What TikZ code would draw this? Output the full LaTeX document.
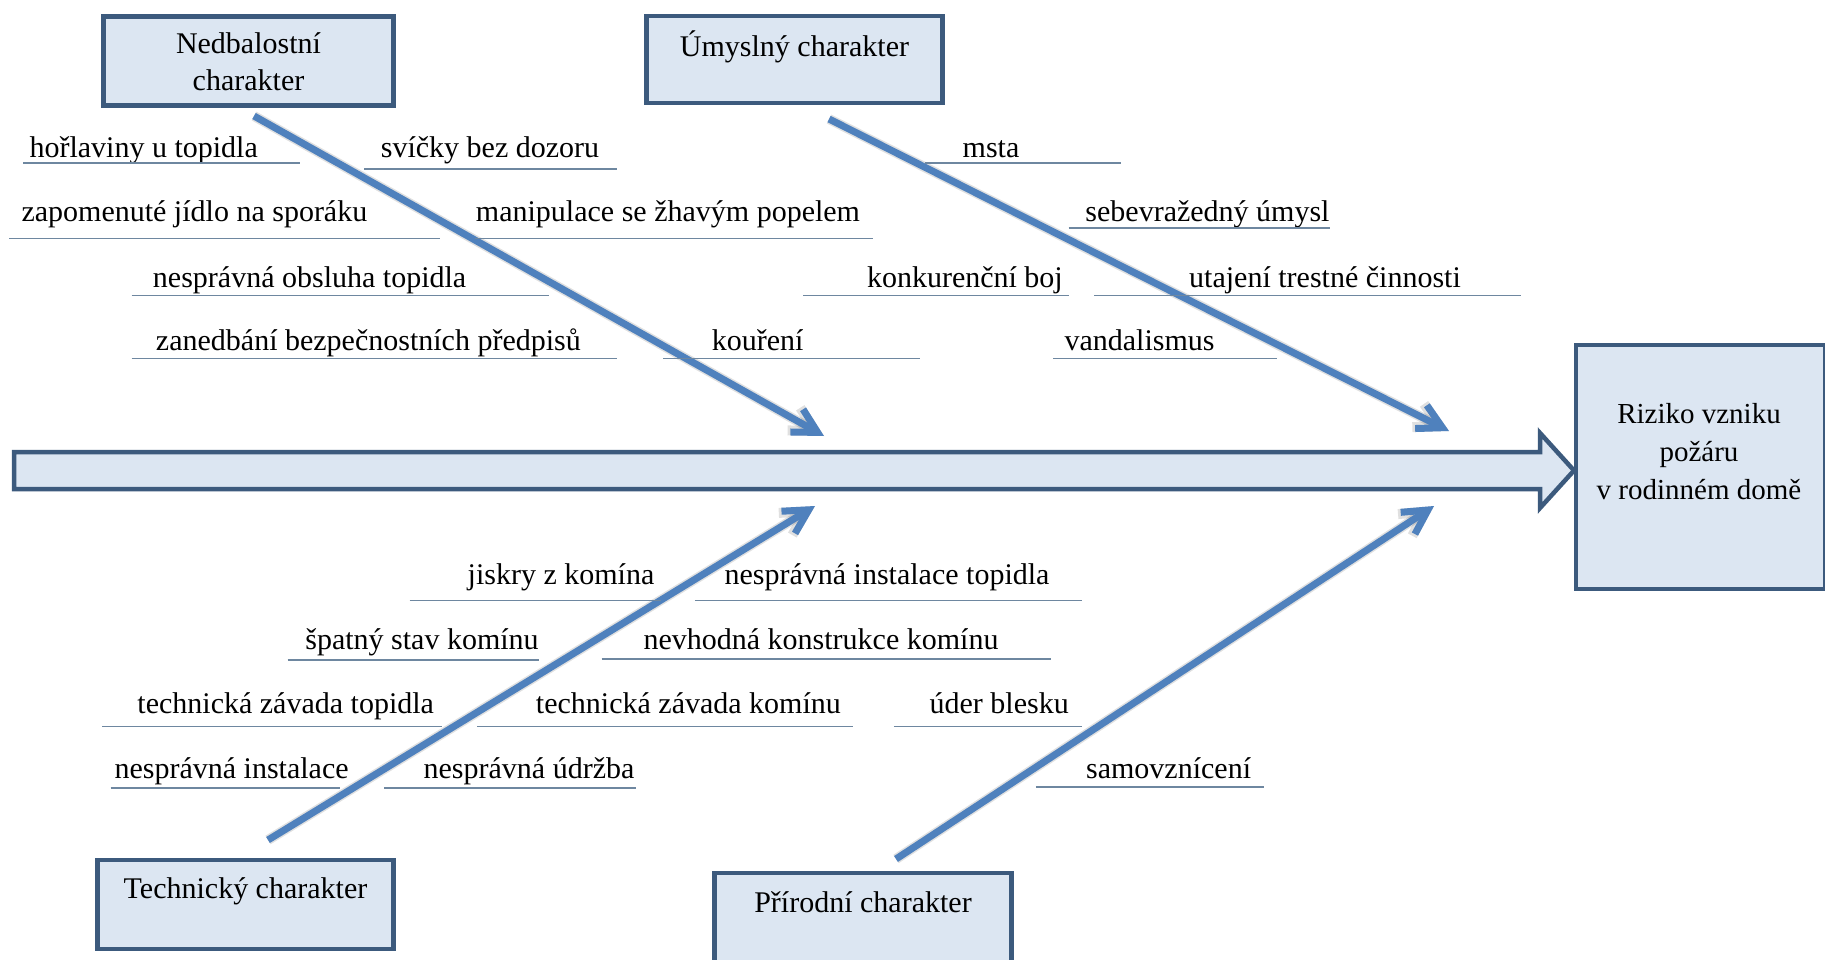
\documentclass[tikz,border=0pt]{standalone}
\usepackage{fontspec}
\setmainfont{Liberation Serif}
\usetikzlibrary{arrows.meta}
\definecolor{boxfill}{RGB}{220,230,242}
\definecolor{boxline}{RGB}{60,90,125}
\definecolor{bonecol}{RGB}{79,129,189}
\definecolor{ulcol}{RGB}{110,135,160}
\begin{document}
\begin{tikzpicture}[x=1pt,y=-1pt,
  catbox/.style={draw=boxline,fill=boxfill,line width=4.5pt,inner sep=0pt},
  boxtext/.style={align=center,font=\fontsize{30}{37}\selectfont,inner sep=0pt},
  lbl/.style={font=\fontsize{30}{36}\selectfont,inner sep=0pt,anchor=base},
  ul/.style={draw=ulcol,line width=1.5pt},
  bone/.style={draw=bonecol,line width=7pt,-{Straight Barb[length=24pt,width=26pt]}},
  boneshadow/.style={draw=black,opacity=0.12,line width=10pt,-{Straight Barb[length=24pt,width=26pt]}},
  spine/.style={draw=boxline,fill=boxfill,line width=4.5pt,line join=miter}]
\useasboundingbox (0,0) rectangle (1825,960);
\fill[white] (0,0) rectangle (1825,960);
\clip (0,0) rectangle (1825,960);

% category boxes
\node[catbox,minimum width=290pt,minimum height=89pt] (nedbox) at (248.5,61) {};
\node[boxtext] (nedtxt) at (248.5,62) {Nedbalostní\\charakter};
\node[catbox,minimum width=296pt,minimum height=87pt] (umbox) at (794.5,59.5) {};
\node[boxtext] (umtxt) at (794.5,46.5) {Úmyslný charakter};
\node[catbox,minimum width=296pt,minimum height=89pt] (techbox) at (245.5,904.5) {};
\node[boxtext] (techtxt) at (245.5,891.5) {Technický charakter};
\node[catbox,minimum width=297pt,minimum height=89pt] (prbox) at (863,917.5) {};
\node[boxtext] (prtxt) at (863,902) {Přírodní charakter};

% effect box
\node[catbox,minimum width=249pt,minimum height=244pt] (effbox) at (1700.5,467) {};
\node[boxtext,font=\fontsize{29}{38}\selectfont] (efftxt) at (1699,452) {Riziko vzniku\\požáru\\v rodinném domě};

% spine
\draw[spine] (14,452) -- (1540,452) -- (1540,433) -- (1574,470.5) -- (1540,508) -- (1540,489) -- (14,489) -- cycle;

% bones
\coordinate (nS) at (254,116); \coordinate (nE) at (824,436);
\coordinate (uS) at (829,119); \coordinate (uE) at (1449,431);
\coordinate (tS) at (268,840); \coordinate (tE) at (815,506);
\coordinate (pS) at (896,859); \coordinate (pE) at (1434,506);
\begin{scope}[shift={(2,3)}]
\draw[boneshadow] (nS) -- (nE);
\draw[boneshadow] (uS) -- (uE);
\draw[boneshadow] (tS) -- (tE);
\draw[boneshadow] (pS) -- (pE);
\end{scope}
\draw[bone] (nS) -- (nE);
\draw[bone] (uS) -- (uE);
\draw[bone] (tS) -- (tE);
\draw[bone] (pS) -- (pE);

% Nedbalostni labels
\node[lbl] (l1) at (143.7,158) {hořlaviny u topidla};
\draw[ul] (23,163) -- (300,163);
\node[lbl] (l2) at (490,158) {svíčky bez dozoru};
\draw[ul] (364,169) -- (617,169);
\node[lbl] (l3) at (194.4,222) {zapomenuté jídlo na sporáku};
\draw[ul] (9,238.6) -- (440,238.6);
\node[lbl] (l4) at (668,222) {manipulace se žhavým popelem};
\draw[ul] (475,238.6) -- (873,238.6);
\node[lbl] (l5) at (309.6,287.5) {nesprávná obsluha topidla};
\draw[ul] (131.5,295.6) -- (549.4,295.6);
\node[lbl] (l6) at (368.4,350) {zanedbání bezpečnostních předpisů};
\draw[ul] (131.5,358.5) -- (617,358.5);
\node[lbl] (l7) at (757.7,350) {kouření};
\draw[ul] (663.4,358.5) -- (919.5,358.5);

% Umyslny labels
\node[lbl] (m1) at (991,158) {msta};
\draw[ul] (925.3,163) -- (1120.8,163);
\node[lbl] (m2) at (1207.5,222) {sebevražedný úmysl};
\draw[ul] (1068.5,228.1) -- (1330.3,228.1);
\node[lbl] (m3) at (964.9,287.5) {konkurenční boj};
\draw[ul] (803.1,295.6) -- (1068.5,295.6);
\node[lbl] (m4) at (1325,287.5) {utajení trestné činnosti};
\draw[ul] (1094,295.6) -- (1521.2,295.6);
\node[lbl] (m5) at (1139.5,350) {vandalismus};
\draw[ul] (1053.3,358.5) -- (1276.8,358.5);

% Technicky labels
\node[lbl] (t1) at (561,584) {jiskry z komína};
\draw[ul] (409.7,600.6) -- (661.1,600.6);
\node[lbl] (t2) at (887,584) {nesprávná instalace topidla};
\draw[ul] (694.8,600.6) -- (1082.4,600.6);
\node[lbl] (t3) at (422,649.5) {špatný stav komínu};
\draw[ul] (287.5,660) -- (538.9,660);
\node[lbl] (t4) at (821,649.5) {nevhodná konstrukce komínu};
\draw[ul] (601.7,658.8) -- (1051,658.8);
\node[lbl] (t5) at (285.7,713.5) {technická závada topidla};
\draw[ul] (102.4,726.3) -- (442.3,726.3);
\node[lbl] (t6) at (688.4,713.5) {technická závada komínu};
\draw[ul] (477.2,726.3) -- (853.2,726.3);
\node[lbl] (t7) at (231.6,778.5) {nesprávná instalace};
\draw[ul] (110.6,788) -- (339.9,788);
\node[lbl] (t8) at (529,778.5) {nesprávná údržba};
\draw[ul] (384.1,788) -- (635.5,788);

% Prirodni labels
\node[lbl] (p1) at (999.2,713.5) {úder blesku};
\draw[ul] (893.9,726.3) -- (1082.4,726.3);
\node[lbl] (p2) at (1168.6,778.5) {samovznícení};
\draw[ul] (1035.9,786.8) -- (1264,786.8);
\end{tikzpicture}
\end{document}
